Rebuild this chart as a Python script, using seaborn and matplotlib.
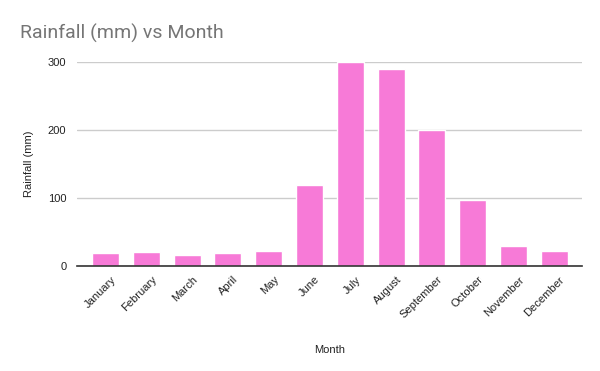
import pandas as pd
import seaborn as sns
import matplotlib.pyplot as plt
import matplotlib.transforms as mtransforms

months = ["January", "February", "March", "April", "May", "June",
          "July", "August", "September", "October", "November", "December"]
rainfall = [19, 21, 16, 19, 22, 119, 300, 289, 200, 97, 29, 22]
yticks = [0, 100, 200, 300]

d = pd.DataFrame({"Month": months, "Rainfall (mm)": rainfall})

sns.set_style("white")
plt.rcParams["font.family"] = ["Liberation Sans", "DejaVu Sans"]

fig = plt.figure(figsize=(6, 3.71), dpi=100)
ax = fig.add_axes([0.129, 0.283, 0.8405, 0.551])

sns.barplot(data=d, x="Month", y="Rainfall (mm)", color="#f77ad7",
            saturation=1, width=0.66, ax=ax)

ax.set_ylim(0, 300)
ax.set_xlim(-0.69, 11.67)
ax.set_yticks(yticks)
ax.yaxis.grid(True, color="#cccccc", linewidth=1)
ax.set_axisbelow(True)
for s in ["top", "right", "left"]:
    ax.spines[s].set_visible(False)
ax.spines["bottom"].set_color("#333333")
ax.spines["bottom"].set_linewidth(1.2)
ax.tick_params(axis="both", length=0, labelsize=8, colors="#222222")
ax.tick_params(axis="y", pad=8)
ax.tick_params(axis="x", pad=6)

# shift rotated month labels a little right, like the original
offset = mtransforms.ScaledTranslation(5 / 100, 0, fig.dpi_scale_trans)
for lbl in ax.get_xticklabels():
    lbl.set_rotation(45)
    lbl.set_ha("right")
    lbl.set_rotation_mode("anchor")
    lbl.set_transform(lbl.get_transform() + offset)

ax.set_xlabel("Month", fontsize=8, color="#222222", labelpad=18)
ax.set_ylabel("Rainfall (mm)", fontsize=8, color="#222222", labelpad=10)

fig.text(20 / 600, 1 - 33 / 371, "Rainfall (mm) vs Month", fontsize=14,
         color="#757575", va="center", ha="left", family=["Roboto", "DejaVu Sans"])

fig.savefig("out.png", dpi=100)
